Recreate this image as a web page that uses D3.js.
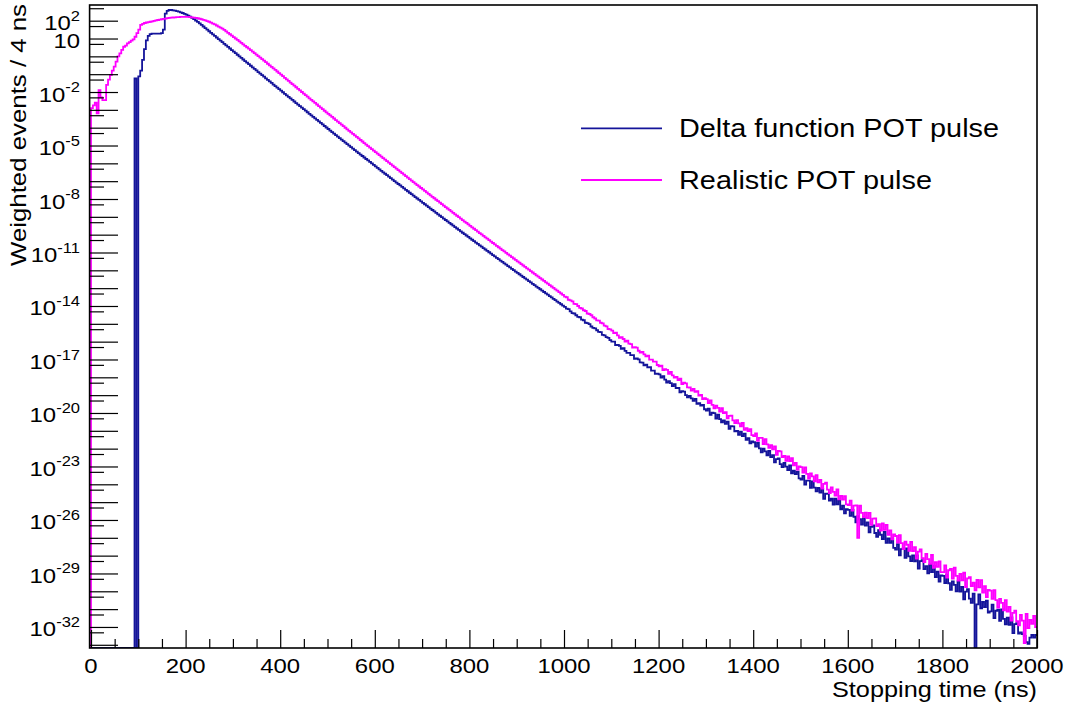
<!DOCTYPE html>
<html><head><meta charset="utf-8">
<script src="https://cdn.jsdelivr.net/npm/d3@7"></script>
<style>
body{margin:0;background:#fff;}
svg{display:block;}
text{font-family:"Liberation Sans",Arial,Helvetica,sans-serif;fill:#000;}
</style>
</head><body>
<svg id="c" width="1070" height="710"></svg>
<script>
// ---------------- data ----------------
const binWidthNs = 4;
const xTickLabels = [0, 200, 400, 600, 800, 1000, 1200, 1400, 1600, 1800, 2000];
const yLabelExponents = [2, 1, -2, -5, -8, -11, -14, -17, -20, -23, -26, -29, -32];
const seriesNames = ["Delta function POT pulse", "Realistic POT pulse"];
const xTitle = "Stopping time (ns)";
const yTitle = "Weighted events / 4 ns";

// log10(weighted events) per 4 ns bin, 0..2000 ns (null = empty bin)
const deltaLog10 = [
 null,null,null,null,null,null,null,null,null,null,null,null,null,null,null,null,null,null,null,null,null,null,null,-1.23,null,
 -1.12,-0.8,-0.2,0.4,0.9,1.15,1.25,1.27,1.27,1.28,1.27,1.28,1.3,1.5,2.4,2.55,2.6,2.6,2.58,2.56,2.535,2.505,2.47,2.43,2.385,
 2.335,2.28,2.22,2.155,2.085,2.01,1.93,1.847,1.761,1.673,1.585,1.497,1.409,1.32,1.23,1.145,1.057,0.97,0.88,0.793,0.705,0.617,0.53,0.44,0.353,
 0.265,0.177,0.09,0.0,-0.087,-0.175,-0.263,-0.35,-0.44,-0.527,-0.615,-0.703,-0.79,-0.88,-0.967,-1.055,-1.14,-1.23,-1.317,-1.405,-1.49,-1.58,-1.665,-1.752,-1.84,
 -1.925,-2.012,-2.099,-2.185,-2.272,-2.359,-2.445,-2.532,-2.618,-2.705,-2.791,-2.877,-2.963,-3.049,-3.135,-3.221,-3.307,-3.392,-3.478,-3.563,-3.649,-3.734,-3.819,-3.905,-3.990,
 -4.075,-4.160,-4.244,-4.329,-4.413,-4.498,-4.582,-4.667,-4.751,-4.836,-4.920,-5.004,-5.088,-5.171,-5.255,-5.339,-5.422,-5.506,-5.589,-5.673,-5.756,-5.839,-5.922,-6.005,-6.088,
 -6.171,-6.254,-6.336,-6.419,-6.501,-6.584,-6.666,-6.748,-6.831,-6.913,-6.995,-7.077,-7.159,-7.240,-7.322,-7.404,-7.485,-7.566,-7.648,-7.729,-7.810,-7.891,-7.972,-8.053,-8.134,
 -8.215,-8.295,-8.376,-8.456,-8.537,-8.617,-8.697,-8.777,-8.858,-8.938,-9.018,-9.098,-9.177,-9.257,-9.336,-9.416,-9.495,-9.574,-9.654,-9.733,-9.812,-9.891,-9.970,-10.048,-10.127,
 -10.206,-10.284,-10.363,-10.441,-10.520,-10.598,-10.676,-10.754,-10.831,-10.909,-10.987,-11.065,-11.142,-11.220,-11.297,-11.375,-11.452,-11.529,-11.606,-11.683,-11.760,-11.837,-11.913,-11.990,-12.067,
 -12.144,-12.220,-12.297,-12.373,-12.450,-12.526,-12.603,-12.679,-12.756,-12.832,-12.909,-12.985,-13.062,-13.138,-13.215,-13.291,-13.368,-13.444,-13.521,-13.597,-13.674,-13.750,-13.827,-13.903,-13.980,
 -14.05,-14.15,-14.18,-14.30,-14.40,-14.42,-14.52,-14.61,-14.63,-14.76,-14.80,-14.94,-14.96,-15.02,-15.15,-15.23,-15.26,-15.36,-15.45,-15.47,-15.62,-15.65,-15.75,-15.79,-15.91,
 -16.00,-16.00,-16.19,-16.18,-16.24,-16.41,-16.36,-16.52,-16.63,-16.63,-16.76,-16.75,-16.97,-16.94,-16.99,-17.16,-17.18,-17.33,-17.29,-17.44,-17.43,-17.63,-17.62,-17.80,-17.79,
 -17.84,-18.02,-17.93,-18.13,-18.30,-18.21,-18.33,-18.49,-18.38,-18.61,-18.59,-18.84,-18.78,-18.80,-19.00,-19.13,-19.04,-19.18,-19.32,-19.21,-19.49,-19.45,-19.58,-19.54,-19.79,
 -19.86,-19.76,-20.11,-19.98,-20.01,-20.31,-20.09,-20.35,-20.52,-20.41,-20.61,-20.49,-20.89,-20.74,-20.75,-21.03,-21.00,-21.23,-21.04,-21.29,-21.16,-21.51,-21.41,-21.71,-21.59,
 -21.64,-21.89,-21.68,-21.98,-22.21,-22.00,-22.15,-22.37,-22.12,-22.47,-22.36,-22.77,-22.59,-22.55,-22.87,-23.04,-22.80,-23.01,-23.20,-22.94,-23.39,-23.24,-23.43,-23.29,-23.67,
 -23.73,-23.53,-24.02,-23.79,-23.79,-24.20,-23.83,-24.19,-24.40,-24.20,-24.47,-24.24,-24.82,-24.53,-24.52,-24.91,-24.81,-25.14,-24.80,-25.13,-24.90,-25.40,-25.19,-25.63,-25.40,
 -25.43,-25.77,-25.43,-25.82,-26.13,-25.79,-25.96,-26.26,-25.86,-26.32,-26.14,-26.69,-26.39,-26.31,-26.73,-26.94,-26.57,-26.83,-27.07,-26.67,-27.28,-27.04,-27.28,-27.03,-27.56,
 -27.66,-27.35,-27.99,-27.64,-27.60,-28.13,-27.59,-28.04,-28.30,-27.99,-28.32,-27.98,-28.73,-28.31,-28.26,-28.75,-28.59,-29.00,-28.50,-28.92,-28.57,-29.21,-28.90,-29.46,-29.11,
 -29.13,-29.54,-29.06,-29.55,-29.92,-29.44,-29.64,-30.00,-29.44,-30.02,-29.75,-30.45,-30.02,-29.88,-30.41,-30.65,-30.13,null,-30.73,-30.17,-30.95,-30.60,-30.88,-30.53,-31.19,
 -31.13,-30.75,-31.51,-31.09,-31.03,-31.66,-31.01,-31.55,-31.85,-31.48,-31.88,-31.46,-32.35,-31.84,-31.79,-32.37,-32.30,-32.40,-32.50,-32.85,-32.95,-32.60,-32.45,-32.60,-32.45
];

const realisticLog10 = [
 -2.9,-2.75,-2.6,-3.2,-1.9,-2.3,-2.45,-2.45,-1.6,-1.3,-1.05,-0.8,-0.58,-0.3,0.0,0.17,0.36,0.54,0.6,0.73,0.8,0.88,0.95,1.1,1.3,
 1.5,1.76,1.82,1.87,1.9,1.92,1.94,1.96,1.99,2.02,2.04,2.06,2.08,2.1,2.12,2.14,2.16,2.17,2.18,2.19,2.2,2.2,2.21,2.21,2.21,
 2.21,2.21,2.20,2.19,2.175,2.16,2.14,2.11,2.08,2.05,2.02,1.98,1.94,1.89,1.84,1.79,1.73,1.67,1.61,1.55,1.48,1.40,1.32,1.24,1.16,
 1.080,1.000,0.919,0.838,0.757,0.675,0.593,0.511,0.429,0.346,0.262,0.179,0.095,0.011,-0.074,-0.158,-0.244,-0.329,-0.415,-0.501,-0.587,-0.674,-0.761,-0.848,-0.936,
 -1.025,-1.114,-1.203,-1.291,-1.380,-1.469,-1.557,-1.646,-1.734,-1.823,-1.911,-1.999,-2.087,-2.175,-2.263,-2.351,-2.439,-2.526,-2.614,-2.701,-2.789,-2.876,-2.963,-3.051,-3.138,
 -3.225,-3.312,-3.398,-3.485,-3.571,-3.658,-3.744,-3.831,-3.917,-4.004,-4.090,-4.176,-4.262,-4.347,-4.433,-4.519,-4.604,-4.690,-4.775,-4.861,-4.946,-5.031,-5.116,-5.201,-5.286,
 -5.371,-5.456,-5.540,-5.625,-5.709,-5.794,-5.878,-5.962,-6.047,-6.131,-6.215,-6.299,-6.383,-6.466,-6.550,-6.634,-6.717,-6.800,-6.884,-6.967,-7.050,-7.133,-7.216,-7.299,-7.382,
 -7.465,-7.547,-7.630,-7.712,-7.795,-7.877,-7.959,-8.041,-8.124,-8.206,-8.288,-8.370,-8.451,-8.533,-8.614,-8.696,-8.777,-8.858,-8.940,-9.021,-9.102,-9.183,-9.264,-9.344,-9.425,
 -9.506,-9.586,-9.667,-9.747,-9.828,-9.908,-9.988,-10.068,-10.147,-10.227,-10.307,-10.387,-10.466,-10.546,-10.625,-10.705,-10.784,-10.863,-10.942,-11.021,-11.100,-11.179,-11.257,-11.336,-11.415,
 -11.494,-11.572,-11.651,-11.729,-11.808,-11.886,-11.965,-12.043,-12.122,-12.200,-12.279,-12.357,-12.436,-12.514,-12.593,-12.671,-12.750,-12.828,-12.907,-12.985,-13.064,-13.142,-13.221,-13.299,-13.378,
 -13.48,-13.51,-13.65,-13.68,-13.74,-13.88,-13.89,-14.00,-14.10,-14.14,-14.24,-14.28,-14.42,-14.45,-14.52,-14.63,-14.70,-14.81,-14.82,-14.94,-14.97,-15.10,-15.14,-15.29,-15.31,
 -15.38,-15.52,-15.49,-15.65,-15.78,-15.75,-15.85,-15.99,-15.94,-16.11,-16.14,-16.33,-16.31,-16.34,-16.51,-16.62,-16.58,-16.71,-16.83,-16.78,-17.01,-17.01,-17.12,-17.12,-17.31,
 -17.38,-17.34,-17.59,-17.54,-17.58,-17.80,-17.69,-17.89,-18.02,-17.98,-18.15,-18.08,-18.38,-18.30,-18.34,-18.56,-18.57,-18.75,-18.65,-18.82,-18.77,-19.03,-18.98,-19.22,-19.17,
 -19.22,-19.44,-19.29,-19.54,-19.74,-19.59,-19.71,-19.92,-19.73,-20.01,-19.96,-20.30,-20.16,-20.15,-20.42,-20.57,-20.40,-20.58,-20.75,-20.56,-20.95,-20.85,-21.02,-20.91,-21.24,
 -21.30,-21.15,-21.56,-21.40,-21.40,-21.74,-21.47,-21.76,-21.95,-21.81,-22.04,-21.87,-22.35,-22.13,-22.15,-22.47,-22.41,-22.69,-22.44,-22.70,-22.54,-22.94,-22.80,-23.17,-23.00,
 -23.04,-23.34,-23.05,-23.41,-23.68,-23.39,-23.55,-23.83,-23.48,-23.89,-23.75,-24.24,-23.98,-23.91,-24.30,-24.49,-24.17,-24.42,-24.64,-24.29,-24.85,-24.65,-24.86,-24.66,-25.13,
 -25.16,-24.92,-25.48,-25.20,-25.18,-27.00,-25.20,-25.60,-25.84,-25.59,-25.90,-25.61,-26.27,-25.93,-25.91,-26.34,-26.23,-26.59,-26.19,-26.55,-26.27,-26.83,-26.59,-27.08,-26.81,
 -26.90,-27.27,-26.85,-27.30,-27.63,-27.21,-27.39,-27.73,-27.23,-27.75,-27.52,-28.16,-27.77,-27.65,-28.14,-28.36,-27.90,-28.20,-28.46,-27.96,-28.68,-28.37,-28.63,-28.32,-28.92,
 -28.92,-28.55,-29.23,-28.82,-28.74,-29.29,-28.67,-29.14,-29.40,-29.03,-29.38,-28.96,-29.77,-29.27,-29.20,-29.71,-29.51,-29.94,-29.36,-29.78,-29.37,-30.07,-29.71,-30.32,-29.92,
 -29.96,-30.43,-29.94,-30.49,-30.91,-30.42,-30.65,-31.07,-30.49,-31.14,-30.87,-31.65,-31.21,-31.08,-31.68,-31.91,-31.33,-31.65,-32.90,-31.27,-32.06,-31.60,-31.83,-31.38,-32.01
];

const seriesColors = ["#14149a", "#ff00ff"];

// ---------------- layout ----------------
const P = {left: 91, right: 1037, top: 5, bottom: 648};
const svg = d3.select("#c");
svg.append("rect").attr("width", 1070).attr("height", 710).attr("fill", "#fff");

const x = d3.scaleLinear().domain([0, 2000]).range([P.left, P.right]);
const y = d3.scaleLog().domain([Math.pow(10, -33.18), Math.pow(10, 2.88)]).range([P.bottom, P.top]);

svg.append("clipPath").attr("id", "clip").append("rect")
  .attr("x", P.left - 2).attr("y", P.top).attr("width", P.right - P.left + 2).attr("height", P.bottom - P.top);

function histPoints(logs) {
  const yb = P.bottom;
  const pts = [[x(0), yb]];
  logs.forEach((v, i) => {
    let yy = (v == null) ? yb : y(Math.pow(10, v));
    yy = Math.max(P.top, Math.min(yb, yy));
    pts.push([x(i * binWidthNs), yy], [x((i + 1) * binWidthNs), yy]);
  });
  return pts;
}
const line = d3.line();
const gH = svg.append("g").attr("clip-path", "url(#clip)");
[deltaLog10, realisticLog10].forEach((s, k) => {
  gH.append("path").attr("d", line(histPoints(s)))
    .attr("fill", "none").attr("stroke", seriesColors[k]).attr("stroke-width", 1.8)
    .attr("stroke-linejoin", "miter");
});

// frame
svg.append("rect").attr("x", 89.6).attr("y", P.top).attr("width", P.right - 89.6).attr("height", P.bottom - P.top)
  .attr("fill", "none").attr("stroke", "#000").attr("stroke-width", 1.6);

// x axis ticks
const xMajor = xTickLabels;
const xMinor = d3.range(0, 2001, 50).filter(v => v % 200 !== 0);
const gx = svg.append("g").attr("transform", `translate(0,${P.bottom})`);
gx.call(d3.axisBottom(x).tickValues(xMajor).tickSize(-18).tickFormat(""));
const gx2 = svg.append("g").attr("transform", `translate(0,${P.bottom})`);
gx2.call(d3.axisBottom(x).tickValues(xMinor).tickSize(-9).tickFormat(""));
[gx, gx2].forEach(g => { g.select(".domain").remove(); g.selectAll("line").attr("stroke", "#000").attr("stroke-width", 1.2); });

// y axis ticks
const decades = d3.range(-33, 3).map(e => Math.pow(10, e));
const halves = d3.range(-33, 3).map(e => 5 * Math.pow(10, e));
const gy = svg.append("g").attr("transform", `translate(90,0)`);
gy.call(d3.axisLeft(y).tickValues(decades).tickSize(-28).tickFormat(""));
const gy2 = svg.append("g").attr("transform", `translate(90,0)`);
gy2.call(d3.axisLeft(y).tickValues(halves).tickSize(-14).tickFormat(""));
[gy, gy2].forEach(g => { g.select(".domain").remove(); g.selectAll("line").attr("stroke", "#000").attr("stroke-width", 1.2); });

const SX = 1.14;
// x tick labels
const gxl = svg.append("g");
xTickLabels.forEach(v => {
  gxl.append("text").attr("transform", `translate(${x(v)},673) scale(${SX},1)`)
    .attr("text-anchor", "middle").attr("font-size", 21).text(v);
});
// y tick labels
const gyl = svg.append("g");
yLabelExponents.forEach(e => {
  const yy = y(Math.pow(10, e)) + 9.5;
  const t = gyl.append("text").attr("transform", `translate(80,${yy}) scale(${SX},1)`)
    .attr("text-anchor", "end").attr("font-size", 21);
  t.append("tspan").text("10");
  if (e !== 1) t.append("tspan").attr("font-size", 14.5).attr("dy", -9.5).text(String(e));
});

// axis titles
svg.append("text").attr("x", 1037).attr("y", 697).attr("text-anchor", "end")
  .attr("font-size", 22).attr("textLength", 205).attr("lengthAdjust", "spacingAndGlyphs").text(xTitle);
svg.append("text").attr("transform", "translate(26,4) rotate(-90)").attr("text-anchor", "end")
  .attr("font-size", 22).attr("textLength", 262).attr("lengthAdjust", "spacingAndGlyphs").text(yTitle);

// legend
const legY = [128.3, 180];
const legW = [320, 253];
seriesNames.forEach((n, k) => {
  svg.append("line").attr("x1", 581).attr("x2", 662).attr("y1", legY[k]).attr("y2", legY[k])
    .attr("stroke", seriesColors[k]).attr("stroke-width", 1.8);
  svg.append("text").attr("x", 679).attr("y", legY[k] + 9).attr("font-size", 25.5)
    .attr("textLength", legW[k]).attr("lengthAdjust", "spacingAndGlyphs").text(n);
});
</script>
</body></html>
